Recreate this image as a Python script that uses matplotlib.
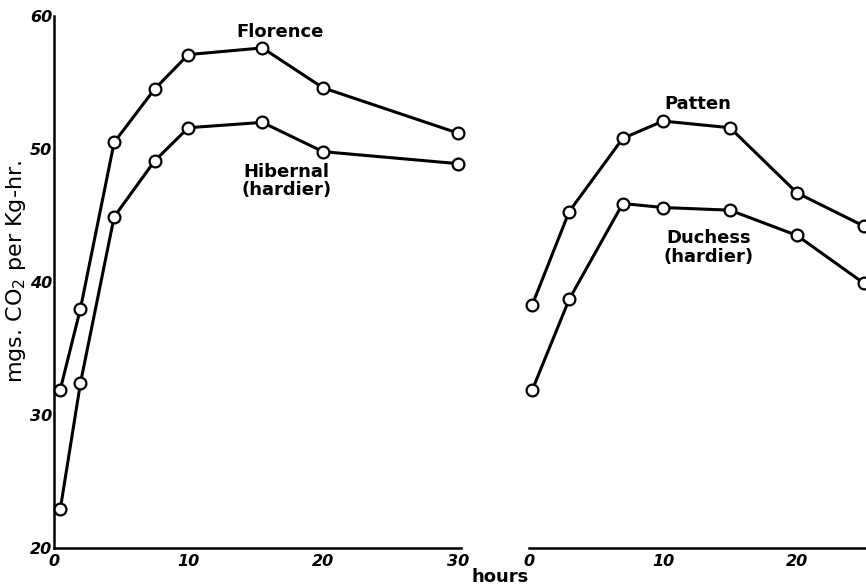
import matplotlib.pyplot as plt

# left panel: Florence vs Hibernal
hours_left = [0.5, 2, 4.5, 7.5, 10, 15.5, 20, 30]
florence = [31.9, 38.0, 50.5, 54.5, 57.1, 57.6, 54.6, 51.2]
hibernal = [22.9, 32.4, 44.9, 49.1, 51.6, 52.0, 49.8, 48.9]

# right panel: Patten vs Duchess
hours_right = [0.25, 3, 7, 10, 15, 20, 25]
patten = [38.3, 45.3, 50.8, 52.1, 51.6, 46.7, 44.2]
duchess = [31.9, 38.7, 45.9, 45.6, 45.4, 43.5, 39.9]

y_ticks = [20, 30, 40, 50, 60]
x_ticks_left = [0, 10, 20, 30]
x_ticks_right = [0, 10, 20]

W, H = 866, 586
fig = plt.figure(figsize=(W / 100, H / 100), dpi=100)

tick_font = dict(fontsize=11.5, fontstyle='italic', fontweight='bold')
label_font = dict(fontsize=13, fontweight='semibold', color='black')

def line(ax, x, y):
    ax.plot(x, y, color='black', lw=2.2, marker='o', ms=8.5,
            mfc='white', mec='black', mew=1.6, clip_on=False, zorder=3)

# left axes
axl = fig.add_axes([53.5 / W, (H - 548) / H, 407 / W, 532 / H])
line(axl, hours_left, florence)
line(axl, hours_left, hibernal)
axl.set_xlim(0, 30.2)
axl.set_ylim(20, 60)
axl.spines[['top', 'right']].set_visible(False)
axl.spines[['left', 'bottom']].set_linewidth(1.8)
axl.set_xticks(x_ticks_left)
axl.set_yticks(y_ticks)
axl.set_xticklabels([str(t) for t in x_ticks_left], **tick_font)
axl.set_yticklabels([str(t) for t in y_ticks], **tick_font)
axl.tick_params(length=0, pad=4)
axl.tick_params(axis='y', pad=1)
axl.set_ylabel('mgs. CO$_2$ per Kg-hr.', fontsize=16, fontweight='normal')
axl.yaxis.set_label_coords(-0.062, 0.519)

# right axes (runs off the edge of the figure)
axr = fig.add_axes([529 / W, (H - 548) / H, 402 / W, 532 / H])
line(axr, hours_right, patten)
line(axr, hours_right, duchess)
axr.set_xlim(0, 30)
axr.set_ylim(20, 60)
axr.spines[['top', 'right', 'left']].set_visible(False)
axr.spines['bottom'].set_linewidth(1.8)
axr.set_xticks(x_ticks_right)
axr.set_xticklabels([str(t) for t in x_ticks_right], **tick_font)
axr.set_yticks([])
axr.tick_params(length=0, pad=4)

# curve labels
axl.text(16.8, 58.8, 'Florence', ha='center', va='center', **label_font)
axl.text(17.3, 47.6, 'Hibernal\n(hardier)', ha='center', va='center',
         linespacing=1.05, **label_font)
axr.text(12.6, 53.4, 'Patten', ha='center', va='center', **label_font)
axr.text(13.4, 42.6, 'Duchess\n(hardier)', ha='center', va='center',
         linespacing=1.05, **label_font)

fig.text(500 / W, 1 - 577 / H, 'hours', ha='center', va='center',
         fontsize=13, fontweight='semibold')

fig.savefig('out.png', dpi=100)
